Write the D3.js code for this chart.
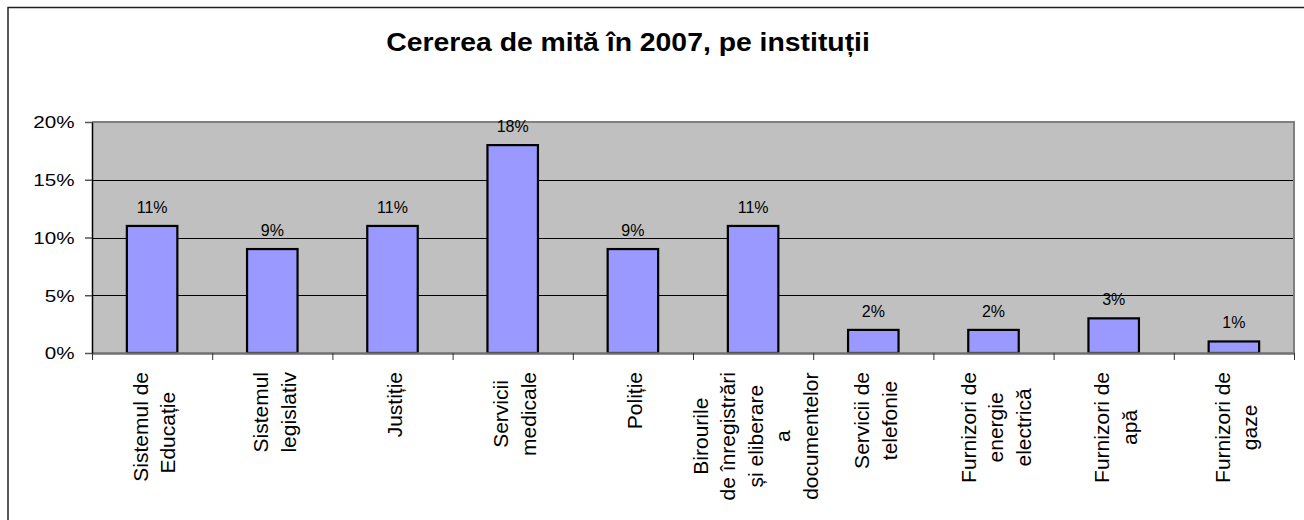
<!DOCTYPE html>
<html>
<head>
<meta charset="utf-8">
<script src="https://cdn.jsdelivr.net/npm/d3@7"></script>
<style>
  html, body { margin: 0; padding: 0; background: #fff; }
  svg { display: block; font-family: "Liberation Sans", Arial, sans-serif; }
</style>
</head>
<body>
<svg id="chart" width="1304" height="520"></svg>
<script>
const title = "Cererea de mită în 2007, pe instituții";
const categories = [
  "Sistemul de\nEducație\u00a0\u00a0",
  "Sistemul\nlegislativ",
  "Justiție",
  "Servicii\nmedicale",
  "Poliție",
  "Birourile\nde înregistrări\nși eliberare\na\ndocumentelor",
  "Servicii de\ntelefonie",
  "Furnizori de\nenergie\nelectrică",
  "Furnizori de\napă",
  "Furnizori de\ngaze"
];
const values = [11, 9, 11, 18, 9, 11, 2, 2, 3, 1];
const yTicks = [0, 5, 10, 15, 20];

const svg = d3.select("#chart");
const W = 1304, H = 520;
const plot = { left: 92, right: 1294, top: 122, bottom: 353 };

// outer frame (extends past right/bottom edges)
svg.append("rect")
  .attr("x", 8).attr("y", 7.5).attr("width", W + 20).attr("height", H + 20)
  .attr("fill", "#fff").attr("stroke", "#222").attr("stroke-width", 1.5);

const x = d3.scaleBand()
  .domain(d3.range(categories.length))
  .range([plot.left, plot.right])
  .paddingInner(0.58).paddingOuter(0.29);
const y = d3.scaleLinear().domain([0, 20]).range([plot.bottom, plot.top]);
const boundary = d3.scaleLinear().domain([0, categories.length]).range([plot.left, plot.right]);

// plot background
svg.append("rect")
  .attr("x", plot.left).attr("y", plot.top)
  .attr("width", plot.right - plot.left).attr("height", plot.bottom - plot.top)
  .attr("fill", "#C0C0C0");

// gridlines
svg.append("g").selectAll("line")
  .data(yTicks.filter(t => t > 0 && t < 20))
  .join("line")
  .attr("x1", plot.left).attr("x2", plot.right)
  .attr("y1", d => Math.round(y(d)) + 0.5).attr("y2", d => Math.round(y(d)) + 0.5)
  .attr("stroke", "#000").attr("stroke-width", 1);

// plot border top/right
svg.append("line").attr("x1", plot.left).attr("x2", plot.right + 1)
  .attr("y1", plot.top).attr("y2", plot.top)
  .attr("stroke", "#808080").attr("stroke-width", 2);
svg.append("line").attr("x1", plot.right).attr("x2", plot.right)
  .attr("y1", plot.top).attr("y2", plot.bottom)
  .attr("stroke", "#808080").attr("stroke-width", 2);

// bars
svg.append("g").selectAll("rect")
  .data(values)
  .join("rect")
  .attr("x", (d, i) => x(i))
  .attr("y", d => y(d))
  .attr("width", x.bandwidth())
  .attr("height", d => y(0) - y(d))
  .attr("fill", "#9999FF")
  .attr("stroke", "#000")
  .attr("stroke-width", 2.2);

// data labels
svg.append("g").selectAll("text")
  .data(values)
  .join("text")
  .attr("x", (d, i) => x(i) + x.bandwidth() / 2)
  .attr("y", d => y(d) - 13)
  .attr("text-anchor", "middle")
  .attr("font-size", 16)
  .attr("fill", "#000")
  .text(d => d + "%");

// x axis (boundary ticks)
const xAxis = svg.append("g")
  .attr("transform", `translate(0,${plot.bottom})`)
  .call(d3.axisBottom(boundary).ticks(categories.length).tickSize(7).tickSizeOuter(0).tickFormat(""));
xAxis.select(".domain").attr("stroke", "#707070").attr("stroke-width", 2.5);
xAxis.selectAll(".tick line").attr("stroke", "#333").attr("stroke-width", 1);

// category labels (rotated, multi-line)
const labG = svg.append("g").attr("font-size", 21).attr("fill", "#000");
categories.forEach((c, i) => {
  const lines = c.split("\n");
  const g = labG.append("g")
    .attr("transform", `translate(${x(i) + x.bandwidth() / 2 + 2},372) rotate(-90)`);
  const texts = g.selectAll("text").data(lines).join("text")
    .attr("text-anchor", "middle")
    .attr("y", (d, k) => (k - (lines.length - 1) / 2) * 27.5 + 7.5)
    .text(d => d);
  let maxW = 0;
  texts.each(function () { maxW = Math.max(maxW, this.getComputedTextLength()); });
  texts.attr("x", -maxW / 2);
});

// y axis
const yAxis = svg.append("g")
  .attr("transform", `translate(${plot.left},0)`)
  .call(d3.axisLeft(y).tickValues(yTicks).tickSize(7).tickSizeOuter(0).tickFormat(d => d + "%"));
yAxis.select(".domain").attr("stroke", "#000").attr("stroke-width", 1.5);
yAxis.selectAll(".tick line").attr("stroke", "#555").attr("stroke-width", 1.5);
yAxis.selectAll(".tick text")
  .attr("font-family", "\"Liberation Sans\", Arial, sans-serif")
  .attr("font-size", 16.5)
  .attr("fill", "#000")
  .attr("x", -14)
  .attr("dy", "0.36em")
  .attr("transform", "scale(1.25,1)");

// title
svg.append("text")
  .attr("transform", "translate(628,51) scale(1.07,1)")
  .attr("text-anchor", "middle")
  .attr("font-size", 26.5)
  .attr("font-weight", "bold")
  .attr("fill", "#000")
  .text(title);
</script>
</body>
</html>
